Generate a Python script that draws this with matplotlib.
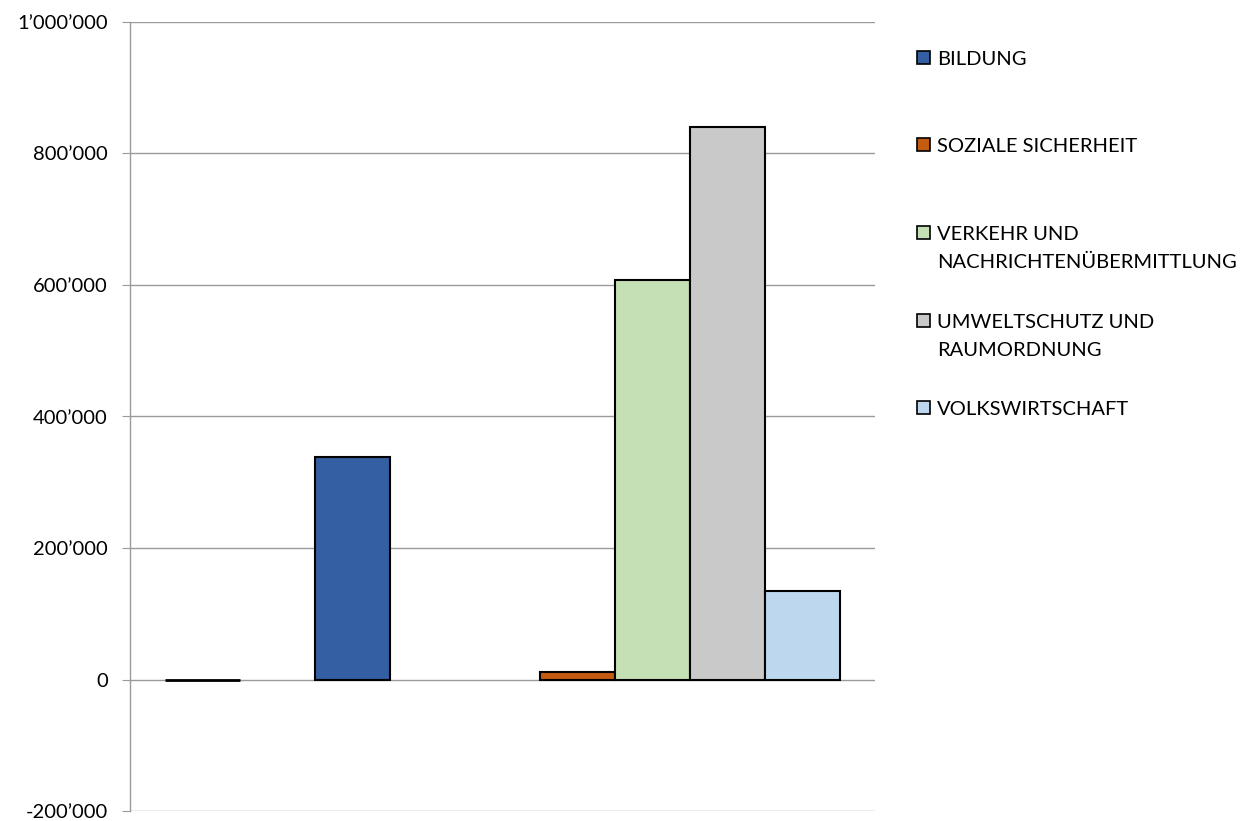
import matplotlib.pyplot as plt
from matplotlib.ticker import FuncFormatter, MultipleLocator
from matplotlib.patches import Rectangle
import numpy as np

# one category, nine series slots (some empty in the source workbook)
series_names = ['', '', 'BILDUNG', '', '', 'SOZIALE SICHERHEIT',
                'VERKEHR UND\nNACHRICHTENÜBERMITTLUNG',
                'UMWELTSCHUTZ UND\nRAUMORDNUNG', 'VOLKSWIRTSCHAFT']
series_values = [0, np.nan, 338000, np.nan, np.nan, 12000, 608000, 840000, 134000]
series_colors = ['#000000', '#ffffff', '#355FA3', '#ffffff', '#ffffff',
                 '#C55A11', '#C5E0B4', '#C9C9C9', '#BDD7EE']

plt.rcParams['font.family'] = ['Lato', 'DejaVu Sans']

W, H = 1256, 821
fig = plt.figure(figsize=(W / 100, H / 100), dpi=100)
ax = fig.add_axes([130 / W, 1 - 811 / H, 745 / W, 789 / H])

x = np.arange(len(series_values))
legend_items = []
for i, (name, val, col) in enumerate(zip(series_names, series_values, series_colors)):
    if np.isnan(val):
        continue
    ax.bar(x[i], val, width=1.0, color=col, edgecolor='black',
           linewidth=2.0 if val == 0 else 1.5, zorder=3)
    if name:
        legend_items.append((name, col))

ax.set_xlim(-0.5 - 35 / 75, len(series_values) - 0.5 + 35 / 75)
ax.set_ylim(-200000, 1000000)
ax.yaxis.set_major_locator(MultipleLocator(200000))
ax.yaxis.set_major_formatter(FuncFormatter(lambda v, p: f"{v:,.0f}".replace(",", "\u2019")))
ax.grid(axis='y', color='#9a9a9a', linewidth=1.0, zorder=0)
ax.set_xticks([])
for s in ['top', 'right', 'bottom']:
    ax.spines[s].set_visible(False)
ax.spines['left'].set_color('#9a9a9a')
ax.spines['left'].set_linewidth(1.0)
ax.tick_params(axis='y', length=6, color='#9a9a9a', labelsize=14.5, pad=10)

# legend drawn by hand to follow the uneven spacing of the original
legend_baselines = [65, 152, 240, 328, 415]
line_gap = 28
for (name, col), yb in zip(legend_items, legend_baselines):
    yc = yb - 7.5
    fig.add_artist(Rectangle((917 / W, 1 - (yc + 6.5) / H), 13 / W, 13 / H,
                             facecolor=col, edgecolor='black', linewidth=1.2,
                             transform=fig.transFigure))
    for k, line in enumerate(name.split('\n')):
        fig.text(937 / W, 1 - (yb + k * line_gap) / H, line, fontsize=14.5,
                 va='baseline', ha='left')

fig.savefig('out.png', dpi=100)
